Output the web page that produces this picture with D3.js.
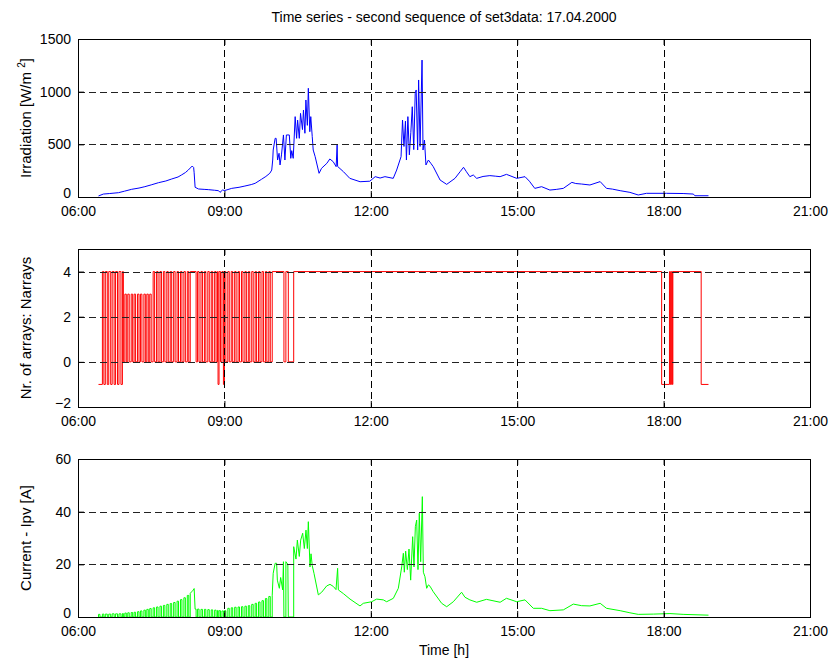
<!DOCTYPE html>
<html>
<head>
<meta charset="utf-8">
<script src="https://cdn.jsdelivr.net/npm/d3@7/dist/d3.min.js"></script>
<style>
  body { margin: 0; background: #fff; }
  text { font-family: "Liberation Sans", Arial, Helvetica, sans-serif; font-size: 14px; fill: #000; }
</style>
</head>
<body>
<div id="chart"></div>
<script>
// Time axis ticks (hours)
let hourTicks = [6, 9, 12, 15, 18, 21];

// Irradiation [W/m2] as [hour, value]
let irradiation = [
	[6.42,10],[6.52,28],[6.65,33],[6.83,41],[6.95,55],[7.10,73],[7.25,85],[7.37,98],[7.50,115],
	[7.65,136],[7.80,152],[7.92,171],[8.05,190],[8.12,209],[8.20,232],[8.26,256],[8.34,294],
	[8.37,280],[8.38,230],[8.40,92],[8.47,76],[8.60,72],[8.67,70],[8.80,64],[8.88,60],[8.91,44],
	[8.96,66],[9.01,62],[9.15,82],[9.30,92],[9.42,104],[9.55,118],[9.63,130],[9.76,168],[9.85,195],
	[9.93,225],[9.97,256],[9.99,351],[10.00,446],[10.04,557],[10.06,557],[10.09,351],[10.12,415],
	[10.14,304],[10.17,400],[10.21,589],[10.24,351],[10.27,589],[10.33,589],[10.36,367],[10.38,440],
	[10.41,367],[10.45,763],[10.48,557],[10.50,730],[10.535,557],[10.56,794],[10.60,640],[10.62,826],
	[10.65,605],[10.67,921],[10.70,680],[10.72,1032],[10.75,620],[10.77,763],[10.80,573],[10.82,446],
	[10.86,383],[10.94,225],[10.99,272],[11.10,320],[11.16,361],[11.23,335],[11.29,288],[11.31,494],
	[11.32,290],[11.44,240],[11.57,177],[11.78,145],[11.98,150],[12.09,193],[12.19,180],[12.29,193],
	[12.46,177],[12.53,256],[12.62,383],[12.65,731],[12.68,480],[12.71,720],[12.73,351],[12.76,763],
	[12.79,400],[12.82,610],[12.85,857],[12.88,450],[12.91,984],[12.93,1016],[12.96,446],[12.98,1111],
	[13.01,480],[13.05,1300],[13.07,446],[13.10,541],[13.13,304],[13.18,351],[13.23,320],[13.28,288],
	[13.42,161],[13.555,120],[13.725,177],[13.83,240],[13.90,282],[13.96,240],[14.03,193],[14.10,209],
	[14.17,177],[14.30,195],[14.44,203],[14.55,198],[14.65,193],[14.78,215],[14.99,177],[15.16,193],
	[15.25,150],[15.36,82],[15.50,98],[15.67,66],[15.80,72],[15.945,82],[16.12,139],[16.20,128],
	[16.32,123],[16.49,114],[16.70,146],[16.83,82],[16.95,75],[17.11,60],[17.31,44],[17.48,19],
	[17.65,35],[18.06,35],[18.40,33],[18.61,28],[18.64,12],[18.92,12]
];

// Number of arrays switched on: change points [hour, value] (held until next point)
let narrays = [
	[6.42,-1],[6.50,4],[6.53,-1],[6.56,4],[6.60,-1],[6.63,4],[6.67,-1],[6.70,4],[6.74,-1],[6.77,4],
	[6.81,-1],[6.84,4],[6.88,-1],[6.91,4],[6.93,0],[6.96,3],[6.99,0],[7.02,3],[7.05,0],[7.09,3],
	[7.12,0],[7.15,3],[7.18,0],[7.22,3],[7.25,0],[7.28,3],[7.31,0],[7.35,3],[7.38,0],[7.41,3],
	[7.44,0],[7.47,3],[7.50,0],[7.54,4],[7.57,0],[7.61,4],[7.64,0],[7.68,4],[7.71,0],[7.75,4],
	[7.78,0],[7.82,4],[7.85,0],[7.89,4],[7.92,0],[7.96,4],[7.99,0],[8.03,4],[8.06,0],[8.10,4],
	[8.13,0],[8.17,4],[8.20,0],[8.24,4],[8.27,0],[8.30,4],[8.42,0],[8.45,4],[8.48,0],[8.52,4],
	[8.55,0],[8.59,4],[8.62,0],[8.66,4],[8.69,0],[8.73,4],[8.76,0],[8.80,4],[8.83,0],[8.86,4],
	[8.87,-1],[8.89,4],[8.92,0],[8.95,4],[8.98,-1],[9.00,4],[9.03,0],[9.07,4],[9.10,0],[9.14,4],
	[9.17,0],[9.21,4],[9.24,0],[9.28,4],[9.31,0],[9.35,4],[9.38,0],[9.42,4],[9.45,0],[9.49,4],
	[9.52,0],[9.56,4],[9.59,0],[9.63,4],[9.66,0],[9.70,4],[9.73,0],[9.77,4],[9.80,0],[9.84,4],
	[9.87,0],[9.91,4],[9.94,0],[9.98,4],[10.22,0],[10.26,4],[10.31,0],[10.42,4],[17.96,-1],
	[18.12,4],[18.14,-1],[18.16,4],[18.18,-1],[18.19,4],[18.77,-1],[18.92,-1]
];

// Current Ipv [A]: morning pulses [start, end, value] while arrays are switched in
let ipvPulsesEarly = [
	[6.42,6.45,1.0],[6.50,6.53,1.1],[6.56,6.60,1.1],[6.63,6.67,1.1],[6.70,6.74,1.2],[6.77,6.81,1.2],
	[6.84,6.88,1.2],[6.91,6.93,1.3],[6.96,6.99,1.5],[7.02,7.05,1.6],[7.09,7.12,1.7],[7.15,7.18,1.8],
	[7.22,7.25,2.0],[7.28,7.31,2.3],[7.35,7.38,2.6],[7.41,7.44,2.9],[7.47,7.50,3.2],[7.54,7.57,3.5],
	[7.61,7.64,3.8],[7.68,7.71,4.1],[7.75,7.78,4.4],[7.82,7.85,4.8],[7.89,7.92,5.1],[7.96,7.99,5.5],
	[8.03,8.06,6.0],[8.10,8.13,6.6],[8.17,8.20,7.3],[8.24,8.27,8.2]
];
let ipvRamp = [[8.30,0],[8.30,9.0],[8.34,9.8],[8.36,10.2],[8.38,10.8],[8.40,3.0],[8.42,3.0],[8.42,0]];
let ipvPulsesLate = [
	[8.45,8.48,3.0],[8.52,8.55,2.9],[8.59,8.62,2.9],[8.66,8.69,2.8],[8.73,8.76,2.7],[8.80,8.83,2.6],
	[8.86,8.87,2.5],[8.89,8.92,2.4],[8.95,8.98,2.3],[9.00,9.03,2.4],[9.07,9.10,3.3],[9.14,9.17,3.5],
	[9.21,9.24,3.7],[9.28,9.31,3.8],[9.35,9.38,3.9],[9.42,9.45,4.1],[9.49,9.52,4.3],[9.56,9.59,4.8],
	[9.63,9.66,5.2],[9.70,9.73,5.7],[9.77,9.80,6.2],[9.84,9.87,7.0],[9.91,9.94,7.8]
];
let ipvDay = [
	[9.98,0],[9.98,8.3],[10.00,16.6],[10.04,20.4],[10.07,20.4],[10.085,14],[10.126,10.9],[10.153,15],
	[10.194,10.3],[10.21,21],[10.22,0],[10.26,0],[10.26,21],[10.30,20],[10.31,0],[10.42,0],[10.42,26.7],
	[10.467,22],[10.495,29.2],[10.535,23],[10.563,29.2],[10.604,31.8],[10.638,26],[10.672,33],[10.70,26],
	[10.72,36.2],[10.754,19],[10.775,24],[10.80,19.5],[10.836,16.6],[10.925,8.4],[10.993,9.4],
	[11.096,11.8],[11.164,12.4],[11.232,11.6],[11.287,10.4],[11.32,18.5],[11.335,10.3],[11.437,8.9],
	[11.574,6.8],[11.779,4.2],[11.847,5.2],[12.018,5.8],[12.12,6.8],[12.257,6.5],[12.325,5.8],
	[12.462,7.1],[12.564,10.9],[12.633,19],[12.667,24.2],[12.687,17],[12.714,25],[12.749,18],
	[12.783,25.8],[12.817,14],[12.858,30.5],[12.885,19],[12.913,34.3],[12.94,36.8],[12.967,18],
	[12.994,39.4],[13.022,21],[13.056,45.7],[13.077,17],[13.11,15.3],[13.145,10.9],[13.18,12.2],
	[13.213,11.7],[13.28,9.6],[13.452,5.2],[13.555,3.9],[13.691,5.8],[13.86,9.4],[13.93,7.5],
	[14.03,6.5],[14.17,5.6],[14.37,6.7],[14.65,5.6],[14.78,7.1],[14.99,5.8],[15.16,6.5],[15.33,3.3],
	[15.50,3.3],[15.67,2.4],[15.945,2.7],[16.15,4.9],[16.32,4.3],[16.49,4.2],[16.70,5.2],[16.83,3.3],
	[17.11,2.4],[17.31,1.6],[17.48,1.0],[17.79,1.1],[18.13,1.3],[18.40,1.0],[18.92,0.7]
];

// Turn pulse rows into line vertices (0 -> value -> value -> 0)
function pulsePoints(pulses) {
	return pulses.flatMap(p => [[p[0], 0], [p[0], p[2]], [p[1], p[2]], [p[1], 0]]);
}
let ipv = pulsePoints(ipvPulsesEarly).concat(ipvRamp, pulsePoints(ipvPulsesLate), ipvDay);

let width = 833, height = 662;
let left = 78, right = 810;

let svg = d3.select("#chart").append("svg")
	.attr("width", width)
	.attr("height", height);

let x = d3.scaleLinear().domain([6, 21]).range([left, right]);

let panels = [
	{ top: 39, bottom: 197, domain: [0, 1500], ticks: [0, 500, 1000, 1500],
	  data: irradiation, color: "#0000ff", curve: d3.curveLinear, label: "irr" },
	{ top: 249, bottom: 407, domain: [-2, 5], ticks: [-2, 0, 2, 4],
	  data: narrays, color: "#ff0000", curve: d3.curveStepAfter, label: "Nr. of arrays: Narrays" },
	{ top: 459, bottom: 617, domain: [0, 60], ticks: [0, 20, 40, 60],
	  data: ipv, color: "#00ff00", curve: d3.curveLinear, label: "Current - Ipv [A]" }
];

panels.forEach(p => {
	let y = d3.scaleLinear().domain(p.domain).range([p.bottom, p.top]);
	let g = svg.append("g");

	// data line
	g.append("path")
		.datum(p.data)
		.attr("fill", "none")
		.attr("stroke", p.color)
		.attr("stroke-width", 1)
		.attr("d", d3.line().x(d => x(d[0])).y(d => y(d[1])).curve(p.curve));

	// dashed grid on top of data
	g.selectAll(".vgrid")
		.data(hourTicks.slice(1, -1))
		.enter().append("line")
		.attr("x1", d => Math.round(x(d)) + 0.5).attr("x2", d => Math.round(x(d)) + 0.5)
		.attr("y1", p.top).attr("y2", p.bottom)
		.attr("stroke", "#000").attr("stroke-dasharray", "7,4");
	g.selectAll(".hgrid")
		.data(p.ticks.filter(t => t > p.domain[0] && t < p.domain[1]))
		.enter().append("line")
		.attr("y1", d => Math.round(y(d)) + 0.5).attr("y2", d => Math.round(y(d)) + 0.5)
		.attr("x1", left).attr("x2", right)
		.attr("stroke", "#222").attr("stroke-dasharray", "7,4");

	// axes, ticks pointing inward like MATLAB
	g.append("g")
		.attr("transform", "translate(0," + p.bottom + ")")
		.call(d3.axisBottom(x).tickValues(hourTicks).tickSizeInner(-6).tickSizeOuter(0).tickPadding(9)
			.tickFormat(d => d3.format("02d")(d) + ":00"));
	g.append("g")
		.attr("transform", "translate(0," + p.top + ")")
		.call(d3.axisTop(x).tickValues(hourTicks).tickSizeInner(-6).tickSizeOuter(0).tickFormat(""));
	let ya = g.append("g")
		.attr("transform", "translate(" + left + ",0)")
		.call(d3.axisLeft(y).tickValues(p.ticks).tickSizeInner(-6).tickSizeOuter(0).tickPadding(7)
			.tickFormat(d3.format("d")));
	// lowest y label sits just above the time label, as in MATLAB
	ya.selectAll(".tick text").filter(d => d === p.domain[0]).attr("dy", "0.05em");
	g.append("g")
		.attr("transform", "translate(" + right + ",0)")
		.call(d3.axisRight(y).tickValues(p.ticks).tickSizeInner(-6).tickSizeOuter(0).tickFormat(""));

	g.selectAll(".domain").remove();
	g.selectAll(".tick text").style("font-size", "14px").style("font-family", null);

	// box
	g.append("rect")
		.attr("x", left + 0.5).attr("y", p.top + 0.5)
		.attr("width", right - left).attr("height", p.bottom - p.top)
		.attr("fill", "none").attr("stroke", "#000");

	// y label
	let lab = g.append("text")
		.attr("transform", "translate(31," + (p.top + p.bottom) / 2 + ") rotate(-90)")
		.attr("text-anchor", "middle")
		.style("font-size", "15px");
	if (p.label === "irr") {
		lab.append("tspan").text("Irradiation [W/m ");
		lab.append("tspan").style("font-size", "10px").attr("dy", "-6").text("2");
		lab.append("tspan").attr("dy", "6").text("]");
	} else {
		lab.text(p.label);
	}
});

svg.append("text")
	.attr("x", 444).attr("y", 22)
	.attr("text-anchor", "middle")
	.text("Time series - second sequence of set3data: 17.04.2000");

svg.append("text")
	.attr("x", 444).attr("y", 655)
	.attr("text-anchor", "middle")
	.text("Time [h]");
</script>
</body>
</html>
